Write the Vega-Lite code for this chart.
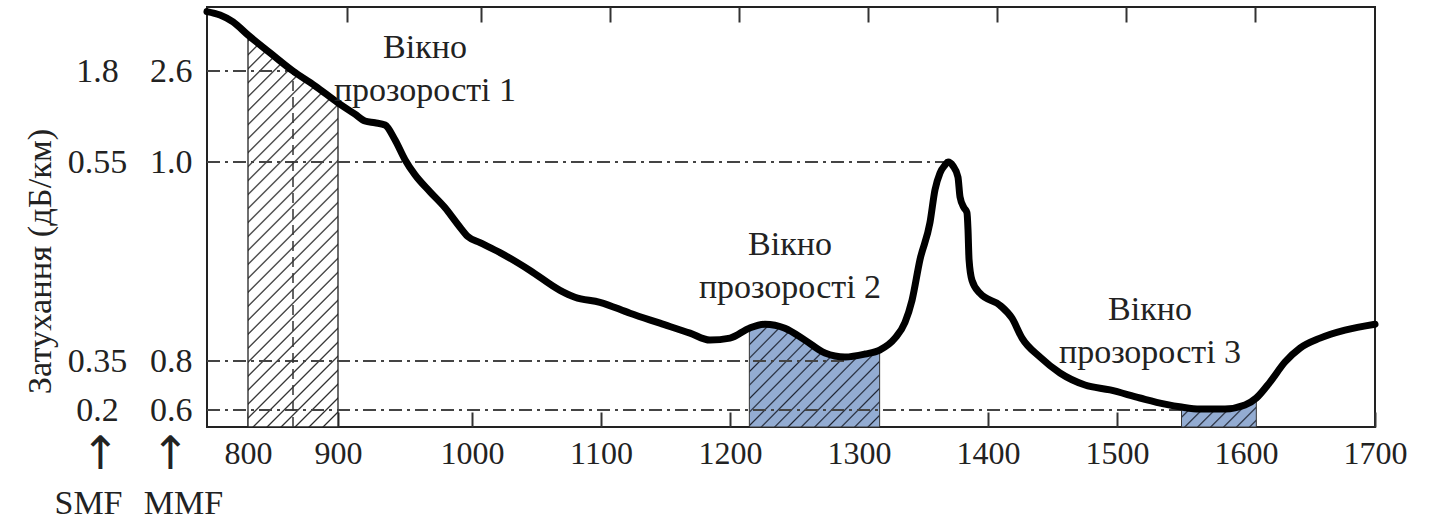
{
  "$schema": "https://vega.github.io/schema/vega-lite/v6.json",
  "width": 1168,
  "height": 420,
  "autosize": {"type": "none"},
  "padding": {"left": 207, "top": 7, "right": 57, "bottom": 98},
  "background": "#ffffff",
  "config": {
    "view": {"stroke": "#222", "strokeWidth": 2},
    "font": "Liberation Serif",
    "axis": {
      "labelFont": "Liberation Serif",
      "titleFont": "Liberation Serif",
      "labelColor": "#222",
      "titleColor": "#222",
      "labelFontSize": 32,
      "grid": false,
      "domain": false,
      "labelOverlap": false,
      "labelFlush": false,
      "tickColor": "#333",
      "tickWidth": 2,
      "titleFontWeight": "normal"
    }
  },
  "datasets": {
    "curve": [
      {"nm": 760, "mmf": 3.64}, {"nm": 772.7, "mmf": 3.58}, {"nm": 785.4, "mmf": 3.46},
      {"nm": 800, "mmf": 3.23}, {"nm": 824.4, "mmf": 2.92}, {"nm": 850, "mmf": 2.6},
      {"nm": 874.4, "mmf": 2.34}, {"nm": 900, "mmf": 2.04}, {"nm": 912.7, "mmf": 1.84},
      {"nm": 920.1, "mmf": 1.72}, {"nm": 927.6, "mmf": 1.69}, {"nm": 935.1, "mmf": 1.65},
      {"nm": 942.5, "mmf": 1.39}, {"nm": 950, "mmf": 1.04}, {"nm": 957.5, "mmf": 0.987},
      {"nm": 968.7, "mmf": 0.97}, {"nm": 979.9, "mmf": 0.954}, {"nm": 989.6, "mmf": 0.937},
      {"nm": 997, "mmf": 0.925}, {"nm": 1006.2, "mmf": 0.919}, {"nm": 1021.7, "mmf": 0.909},
      {"nm": 1045, "mmf": 0.891}, {"nm": 1068.2, "mmf": 0.871}, {"nm": 1079.8, "mmf": 0.864},
      {"nm": 1099.2, "mmf": 0.859}, {"nm": 1122.5, "mmf": 0.848}, {"nm": 1145.7, "mmf": 0.838},
      {"nm": 1169, "mmf": 0.828}, {"nm": 1184.5, "mmf": 0.821}, {"nm": 1200, "mmf": 0.823},
      {"nm": 1215, "mmf": 0.833}, {"nm": 1227.1, "mmf": 0.837}, {"nm": 1242.6, "mmf": 0.833},
      {"nm": 1258.1, "mmf": 0.821}, {"nm": 1273.6, "mmf": 0.808}, {"nm": 1289.1, "mmf": 0.804},
      {"nm": 1304.7, "mmf": 0.807}, {"nm": 1316, "mmf": 0.811}, {"nm": 1327.9, "mmf": 0.823},
      {"nm": 1335.7, "mmf": 0.839}, {"nm": 1341.1, "mmf": 0.861}, {"nm": 1347.3, "mmf": 0.902},
      {"nm": 1355, "mmf": 0.939}, {"nm": 1358.9, "mmf": 0.972}, {"nm": 1362.8, "mmf": 0.989},
      {"nm": 1366.7, "mmf": 0.997}, {"nm": 1369, "mmf": 1.0}, {"nm": 1372.9, "mmf": 0.996},
      {"nm": 1376.7, "mmf": 0.985}, {"nm": 1378.3, "mmf": 0.965}, {"nm": 1381.4, "mmf": 0.954},
      {"nm": 1383.7, "mmf": 0.949}, {"nm": 1384.5, "mmf": 0.932}, {"nm": 1385.3, "mmf": 0.902},
      {"nm": 1387.6, "mmf": 0.881}, {"nm": 1393.8, "mmf": 0.868}, {"nm": 1409.3, "mmf": 0.856},
      {"nm": 1418.6, "mmf": 0.843}, {"nm": 1426.4, "mmf": 0.823}, {"nm": 1440.3, "mmf": 0.804},
      {"nm": 1455.8, "mmf": 0.751}, {"nm": 1475.2, "mmf": 0.702}, {"nm": 1494.6, "mmf": 0.682},
      {"nm": 1517.8, "mmf": 0.649}, {"nm": 1537.2, "mmf": 0.624}, {"nm": 1550, "mmf": 0.612},
      {"nm": 1564.3, "mmf": 0.604}, {"nm": 1583.7, "mmf": 0.604}, {"nm": 1599.2, "mmf": 0.62},
      {"nm": 1608, "mmf": 0.649}, {"nm": 1618.6, "mmf": 0.714}, {"nm": 1630.2, "mmf": 0.796},
      {"nm": 1641.9, "mmf": 0.813}, {"nm": 1657.4, "mmf": 0.823}, {"nm": 1676.7, "mmf": 0.831},
      {"nm": 1700, "mmf": 0.837}
    ],
    "levels": [
      {"mmf": 2.6, "smf": 1.8, "from": 760, "to": 850},
      {"mmf": 1.0, "smf": 0.55, "from": 760, "to": 1369},
      {"mmf": 0.8, "smf": 0.35, "from": 760, "to": 1290},
      {"mmf": 0.6, "smf": 0.2, "from": 760, "to": 1575}
    ],
    "vline": [{"nm": 850, "lo": 0.53, "hi": 2.6}],
    "notes": [
      {"nm": 964.9, "mmf": 2.83, "text": "Вікно\nпрозорості 1"},
      {"nm": 1246.5, "mmf": 0.9065, "text": "Вікно\nпрозорості 2"},
      {"nm": 1525.6, "mmf": 0.841, "text": "Вікно\nпрозорості 3"}
    ]
  },
  "layer": [
    {
      "data": {"name": "curve"},
      "layer": [
        {
          "transform": [{"filter": {"field": "nm", "range": [800, 900]}}],
          "mark": {
            "type": "area", "interpolate": "monotone", "stroke": "#222", "strokeWidth": 1.3,
            "fill": {
              "gradient": "linear", "x1": 0, "y1": 0, "x2": 0.268, "y2": 1.168,
              "stops": [
                {"offset": 0.0085, "color": "#fff"}, {"offset": 0.012, "color": "#222"}, {"offset": 0.0155, "color": "#fff"},
                {"offset": 0.0375, "color": "#fff"}, {"offset": 0.041, "color": "#222"}, {"offset": 0.0445, "color": "#fff"},
                {"offset": 0.0665, "color": "#fff"}, {"offset": 0.070, "color": "#222"}, {"offset": 0.0735, "color": "#fff"},
                {"offset": 0.0955, "color": "#fff"}, {"offset": 0.099, "color": "#222"}, {"offset": 0.1025, "color": "#fff"},
                {"offset": 0.1245, "color": "#fff"}, {"offset": 0.128, "color": "#222"}, {"offset": 0.1315, "color": "#fff"},
                {"offset": 0.1535, "color": "#fff"}, {"offset": 0.157, "color": "#222"}, {"offset": 0.1605, "color": "#fff"},
                {"offset": 0.1825, "color": "#fff"}, {"offset": 0.186, "color": "#222"}, {"offset": 0.1895, "color": "#fff"},
                {"offset": 0.2115, "color": "#fff"}, {"offset": 0.215, "color": "#222"}, {"offset": 0.2185, "color": "#fff"},
                {"offset": 0.2405, "color": "#fff"}, {"offset": 0.244, "color": "#222"}, {"offset": 0.2475, "color": "#fff"},
                {"offset": 0.2695, "color": "#fff"}, {"offset": 0.273, "color": "#222"}, {"offset": 0.2765, "color": "#fff"},
                {"offset": 0.2985, "color": "#fff"}, {"offset": 0.302, "color": "#222"}, {"offset": 0.3055, "color": "#fff"},
                {"offset": 0.3275, "color": "#fff"}, {"offset": 0.331, "color": "#222"}, {"offset": 0.3345, "color": "#fff"},
                {"offset": 0.3565, "color": "#fff"}, {"offset": 0.360, "color": "#222"}, {"offset": 0.3635, "color": "#fff"},
                {"offset": 0.3855, "color": "#fff"}, {"offset": 0.389, "color": "#222"}, {"offset": 0.3925, "color": "#fff"},
                {"offset": 0.4145, "color": "#fff"}, {"offset": 0.418, "color": "#222"}, {"offset": 0.4215, "color": "#fff"},
                {"offset": 0.4435, "color": "#fff"}, {"offset": 0.447, "color": "#222"}, {"offset": 0.4505, "color": "#fff"},
                {"offset": 0.4725, "color": "#fff"}, {"offset": 0.476, "color": "#222"}, {"offset": 0.4795, "color": "#fff"},
                {"offset": 0.5015, "color": "#fff"}, {"offset": 0.505, "color": "#222"}, {"offset": 0.5085, "color": "#fff"},
                {"offset": 0.5305, "color": "#fff"}, {"offset": 0.534, "color": "#222"}, {"offset": 0.5375, "color": "#fff"},
                {"offset": 0.5595, "color": "#fff"}, {"offset": 0.563, "color": "#222"}, {"offset": 0.5665, "color": "#fff"},
                {"offset": 0.5885, "color": "#fff"}, {"offset": 0.592, "color": "#222"}, {"offset": 0.5955, "color": "#fff"},
                {"offset": 0.6175, "color": "#fff"}, {"offset": 0.621, "color": "#222"}, {"offset": 0.6245, "color": "#fff"},
                {"offset": 0.6465, "color": "#fff"}, {"offset": 0.650, "color": "#222"}, {"offset": 0.6535, "color": "#fff"},
                {"offset": 0.6755, "color": "#fff"}, {"offset": 0.679, "color": "#222"}, {"offset": 0.6825, "color": "#fff"},
                {"offset": 0.7045, "color": "#fff"}, {"offset": 0.708, "color": "#222"}, {"offset": 0.7115, "color": "#fff"},
                {"offset": 0.7335, "color": "#fff"}, {"offset": 0.737, "color": "#222"}, {"offset": 0.7405, "color": "#fff"},
                {"offset": 0.7625, "color": "#fff"}, {"offset": 0.766, "color": "#222"}, {"offset": 0.7695, "color": "#fff"},
                {"offset": 0.7915, "color": "#fff"}, {"offset": 0.795, "color": "#222"}, {"offset": 0.7985, "color": "#fff"},
                {"offset": 0.8205, "color": "#fff"}, {"offset": 0.824, "color": "#222"}, {"offset": 0.8275, "color": "#fff"},
                {"offset": 0.8495, "color": "#fff"}, {"offset": 0.853, "color": "#222"}, {"offset": 0.8565, "color": "#fff"},
                {"offset": 0.8785, "color": "#fff"}, {"offset": 0.882, "color": "#222"}, {"offset": 0.8855, "color": "#fff"},
                {"offset": 0.9075, "color": "#fff"}, {"offset": 0.911, "color": "#222"}, {"offset": 0.9145, "color": "#fff"},
                {"offset": 0.9365, "color": "#fff"}, {"offset": 0.940, "color": "#222"}, {"offset": 0.9435, "color": "#fff"},
                {"offset": 0.9655, "color": "#fff"}, {"offset": 0.969, "color": "#222"}, {"offset": 0.9725, "color": "#fff"}
              ]
            }
          },
          "encoding": {
            "x": {"field": "nm", "type": "quantitative", "axis": null,
                  "scale": {"type": "linear", "domain": [760, 800, 900, 1000, 1700], "range": [0, 41, 131, 265, 1168], "nice": false, "zero": false}},
            "y": {"field": "mmf", "type": "quantitative", "axis": null,
                  "scale": {"type": "linear", "domain": [0.53, 0.6, 0.8, 1.0, 2.6, 3.72], "range": [420, 403, 354, 155, 64, 0], "nice": false, "zero": false}},
            "y2": {"datum": 0.53}
          }
        },
        {
          "transform": [{"filter": {"field": "nm", "range": [1215, 1316]}}],
          "mark": {
            "type": "area", "interpolate": "monotone", "stroke": "#333", "strokeWidth": 1,
            "fill": {
              "gradient": "linear", "x1": 0, "y1": 0, "x2": 1.1066, "y2": 0.8635,
              "stops": [
                {"offset": 0.023, "color": "#93acd2"}, {"offset": 0.03, "color": "#1f2533"}, {"offset": 0.037, "color": "#93acd2"},
                {"offset": 0.0805, "color": "#93acd2"}, {"offset": 0.0875, "color": "#1f2533"}, {"offset": 0.0945, "color": "#93acd2"},
                {"offset": 0.138, "color": "#93acd2"}, {"offset": 0.145, "color": "#1f2533"}, {"offset": 0.152, "color": "#93acd2"},
                {"offset": 0.1955, "color": "#93acd2"}, {"offset": 0.2025, "color": "#1f2533"}, {"offset": 0.2095, "color": "#93acd2"},
                {"offset": 0.253, "color": "#93acd2"}, {"offset": 0.26, "color": "#1f2533"}, {"offset": 0.267, "color": "#93acd2"},
                {"offset": 0.3105, "color": "#93acd2"}, {"offset": 0.3175, "color": "#1f2533"}, {"offset": 0.3245, "color": "#93acd2"},
                {"offset": 0.368, "color": "#93acd2"}, {"offset": 0.375, "color": "#1f2533"}, {"offset": 0.382, "color": "#93acd2"},
                {"offset": 0.4255, "color": "#93acd2"}, {"offset": 0.4325, "color": "#1f2533"}, {"offset": 0.4395, "color": "#93acd2"},
                {"offset": 0.483, "color": "#93acd2"}, {"offset": 0.49, "color": "#1f2533"}, {"offset": 0.497, "color": "#93acd2"},
                {"offset": 0.5405, "color": "#93acd2"}, {"offset": 0.5475, "color": "#1f2533"}, {"offset": 0.5545, "color": "#93acd2"},
                {"offset": 0.598, "color": "#93acd2"}, {"offset": 0.605, "color": "#1f2533"}, {"offset": 0.612, "color": "#93acd2"},
                {"offset": 0.6555, "color": "#93acd2"}, {"offset": 0.6625, "color": "#1f2533"}, {"offset": 0.6695, "color": "#93acd2"},
                {"offset": 0.713, "color": "#93acd2"}, {"offset": 0.72, "color": "#1f2533"}, {"offset": 0.727, "color": "#93acd2"},
                {"offset": 0.7705, "color": "#93acd2"}, {"offset": 0.7775, "color": "#1f2533"}, {"offset": 0.7845, "color": "#93acd2"},
                {"offset": 0.828, "color": "#93acd2"}, {"offset": 0.835, "color": "#1f2533"}, {"offset": 0.842, "color": "#93acd2"},
                {"offset": 0.8855, "color": "#93acd2"}, {"offset": 0.8925, "color": "#1f2533"}, {"offset": 0.8995, "color": "#93acd2"},
                {"offset": 0.943, "color": "#93acd2"}, {"offset": 0.95, "color": "#1f2533"}, {"offset": 0.957, "color": "#93acd2"}
              ]
            }
          },
          "encoding": {
            "x": {"field": "nm", "type": "quantitative", "axis": null},
            "y": {"field": "mmf", "type": "quantitative", "axis": null},
            "y2": {"datum": 0.53}
          }
        },
        {
          "transform": [{"filter": {"field": "nm", "range": [1550, 1608]}}],
          "mark": {
            "type": "area", "interpolate": "monotone", "stroke": "#333", "strokeWidth": 1,
            "fill": {
              "gradient": "linear", "x1": 0, "y1": 0, "x2": 1.206, "y2": 0.4665,
              "stops": [
                {"offset": 0.044, "color": "#93acd2"}, {"offset": 0.06, "color": "#1f2533"}, {"offset": 0.076, "color": "#93acd2"},
                {"offset": 0.169, "color": "#93acd2"}, {"offset": 0.185, "color": "#1f2533"}, {"offset": 0.201, "color": "#93acd2"},
                {"offset": 0.294, "color": "#93acd2"}, {"offset": 0.31, "color": "#1f2533"}, {"offset": 0.326, "color": "#93acd2"},
                {"offset": 0.419, "color": "#93acd2"}, {"offset": 0.435, "color": "#1f2533"}, {"offset": 0.451, "color": "#93acd2"},
                {"offset": 0.544, "color": "#93acd2"}, {"offset": 0.56, "color": "#1f2533"}, {"offset": 0.576, "color": "#93acd2"},
                {"offset": 0.669, "color": "#93acd2"}, {"offset": 0.685, "color": "#1f2533"}, {"offset": 0.701, "color": "#93acd2"},
                {"offset": 0.794, "color": "#93acd2"}, {"offset": 0.81, "color": "#1f2533"}, {"offset": 0.826, "color": "#93acd2"},
                {"offset": 0.919, "color": "#93acd2"}, {"offset": 0.935, "color": "#1f2533"}, {"offset": 0.951, "color": "#93acd2"}
              ]
            }
          },
          "encoding": {
            "x": {"field": "nm", "type": "quantitative", "axis": null},
            "y": {"field": "mmf", "type": "quantitative", "axis": null},
            "y2": {"datum": 0.53}
          }
        }
      ]
    },
    {
      "data": {"name": "levels"},
      "mark": {"type": "rule", "color": "#444", "strokeWidth": 1.8, "strokeDash": [13, 5, 3, 5]},
      "encoding": {
        "x": {"field": "from", "type": "quantitative",
              "scale": {"type": "linear", "domain": [760, 800, 900, 1000, 1700], "range": [0, 41, 131, 265, 1168], "nice": false, "zero": false},
              "axis": {"orient": "bottom", "values": [800, 900, 1000, 1100, 1200, 1300, 1400, 1500, 1600, 1700],
                       "tickSize": -15, "labelPadding": 26, "labelBaseline": "top", "title": null, "format": "d"}},
        "x2": {"field": "to"},
        "y": {"field": "mmf", "type": "quantitative",
              "scale": {"type": "linear", "domain": [0.53, 0.6, 0.8, 1.0, 2.6, 3.72], "range": [420, 403, 354, 155, 64, 0], "nice": false, "zero": false},
              "axis": {"orient": "left", "values": [0.6, 0.8, 1.0, 2.6], "format": ".1f", "ticks": false, "labelPadding": 15, "labelFontSize": 34,
                       "title": "MMF", "titleAngle": 0, "titleX": -24, "titleY": 506, "titleAlign": "center",
                       "titleBaseline": "alphabetic", "titleFontSize": 34}}
      }
    },
    {
      "data": {"name": "levels"},
      "mark": {"type": "point", "opacity": 0},
      "encoding": {
        "x": {"field": "from", "type": "quantitative",
              "axis": {"orient": "top", "values": [900, 1000, 1100, 1200, 1300, 1400, 1500, 1600], "tickSize": -15, "tickOffset": 9, "labels": false, "title": null}},
        "y": {"field": "smf", "type": "quantitative",
              "scale": {"type": "linear", "domain": [0.148, 0.2, 0.35, 0.55, 1.8, 2.68], "range": [420, 403, 354, 155, 64, 0], "nice": false, "zero": false},
              "axis": {"orient": "left", "values": [0.2, 0.35, 0.55, 1.8], "format": "~g", "ticks": false, "labelAlign": "center", "labelPadding": 110, "labelFontSize": 34,
                       "title": "SMF", "titleAngle": 0, "titleX": -119, "titleY": 506, "titleAlign": "center",
                       "titleBaseline": "alphabetic", "titleFontSize": 34}}
      }
    },
    {
      "data": {"name": "levels"},
      "mark": {"type": "point", "opacity": 0},
      "encoding": {
        "x": {"field": "from", "type": "quantitative", "axis": null},
        "y": {"field": "mmf", "type": "quantitative",
              "scale": {"type": "linear", "domain": [0.53, 0.6, 0.8, 1.0, 2.6, 3.72], "range": [420, 403, 354, 155, 64, 0], "nice": false, "zero": false},
              "axis": {"orient": "left", "values": [], "ticks": false,
                       "title": "Затухання (дБ/км)", "titleAngle": -90, "titleX": -167, "titleY": 254,
                       "titleAlign": "center", "titleBaseline": "middle", "titleFontSize": 34.5}}
      }
    },
    {
      "data": {"name": "levels"},
      "mark": {"type": "point", "opacity": 0},
      "encoding": {
        "x": {"field": "from", "type": "quantitative", "axis": null},
        "y": {"field": "mmf", "type": "quantitative",
              "scale": {"type": "linear", "domain": [0.53, 0.6, 0.8, 1.0, 2.6, 3.72], "range": [420, 403, 354, 155, 64, 0], "nice": false, "zero": false},
              "axis": {"orient": "left", "values": [], "ticks": false,
                       "title": "↑", "titleFont": "DejaVu Sans", "titleAngle": 0, "titleX": -107, "titleY": 461,
                       "titleAlign": "center", "titleBaseline": "alphabetic", "titleFontSize": 46}}
      }
    },
    {
      "data": {"name": "levels"},
      "mark": {"type": "point", "opacity": 0},
      "encoding": {
        "x": {"field": "from", "type": "quantitative", "axis": null},
        "y": {"field": "mmf", "type": "quantitative",
              "scale": {"type": "linear", "domain": [0.53, 0.6, 0.8, 1.0, 2.6, 3.72], "range": [420, 403, 354, 155, 64, 0], "nice": false, "zero": false},
              "axis": {"orient": "left", "values": [], "ticks": false,
                       "title": "↑", "titleFont": "DejaVu Sans", "titleAngle": 0, "titleX": -37, "titleY": 461,
                       "titleAlign": "center", "titleBaseline": "alphabetic", "titleFontSize": 46}}
      }
    },
    {
      "layer": [
        {
          "data": {"name": "vline"},
          "mark": {"type": "rule", "color": "#333", "strokeWidth": 1.5, "strokeDash": [10, 6]},
          "encoding": {
            "x": {"field": "nm", "type": "quantitative", "axis": null},
            "y": {"field": "lo", "type": "quantitative", "axis": null,
                  "scale": {"type": "linear", "domain": [0.53, 0.6, 0.8, 1.0, 2.6, 3.72], "range": [420, 403, 354, 155, 64, 0], "nice": false, "zero": false}},
            "y2": {"field": "hi"}
          }
        },
        {
          "data": {"name": "curve"},
          "mark": {"type": "line", "interpolate": "monotone", "color": "#000", "strokeWidth": 7, "strokeCap": "round", "strokeJoin": "round"},
          "encoding": {
            "x": {"field": "nm", "type": "quantitative", "axis": null},
            "y": {"field": "mmf", "type": "quantitative", "axis": null}
          }
        },
        {
          "data": {"name": "notes"},
          "mark": {"type": "text", "font": "Liberation Serif", "fontSize": 34, "color": "#222", "align": "center", "baseline": "alphabetic", "lineBreak": "\n", "lineHeight": 43},
          "encoding": {
            "x": {"field": "nm", "type": "quantitative", "axis": null},
            "y": {"field": "mmf", "type": "quantitative", "axis": null},
            "text": {"field": "text"}
          }
        }
      ]
    }
  ],
  "resolve": {"scale": {"y": "independent"}, "axis": {"x": "independent", "y": "independent"}}
}
